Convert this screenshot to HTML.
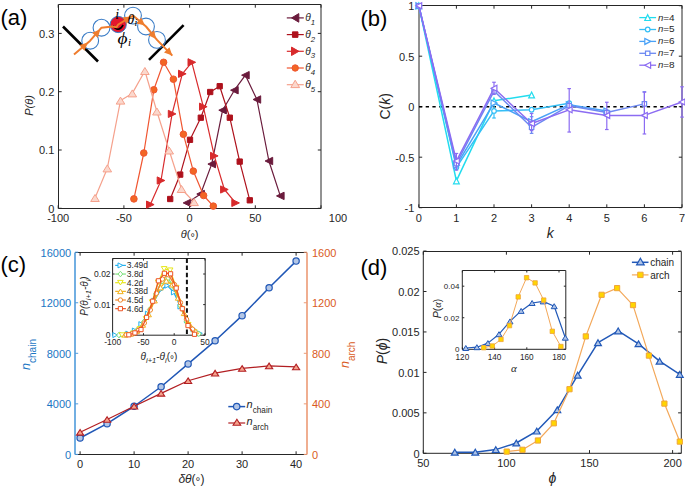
<!DOCTYPE html>
<html><head><meta charset="utf-8"><style>
html,body{margin:0;padding:0;background:#fff;width:685px;height:488px;overflow:hidden}
svg{display:block}
</style></head><body>
<svg width="685" height="488" viewBox="0 0 685 488">
<rect width="685" height="488" fill="#fff"/>
<line x1="58.50" y1="4.50" x2="321.00" y2="4.50" stroke="#262626" stroke-width="1" />
<line x1="58.50" y1="208.50" x2="321.00" y2="208.50" stroke="#262626" stroke-width="1" />
<line x1="58.50" y1="4.50" x2="58.50" y2="208.50" stroke="#262626" stroke-width="1" />
<line x1="321.00" y1="4.50" x2="321.00" y2="208.50" stroke="#262626" stroke-width="1" />
<line x1="58.20" y1="208.50" x2="58.20" y2="205.30" stroke="#262626" stroke-width="1" />
<line x1="58.20" y1="4.50" x2="58.20" y2="7.70" stroke="#262626" stroke-width="1" />
<text x="58.20" y="221.80" font-size="11" text-anchor="middle" fill="#262626" font-family='"Liberation Sans", sans-serif'  >-100</text>
<line x1="123.90" y1="208.50" x2="123.90" y2="205.30" stroke="#262626" stroke-width="1" />
<line x1="123.90" y1="4.50" x2="123.90" y2="7.70" stroke="#262626" stroke-width="1" />
<text x="123.90" y="221.80" font-size="11" text-anchor="middle" fill="#262626" font-family='"Liberation Sans", sans-serif'  >-50</text>
<line x1="189.60" y1="208.50" x2="189.60" y2="205.30" stroke="#262626" stroke-width="1" />
<line x1="189.60" y1="4.50" x2="189.60" y2="7.70" stroke="#262626" stroke-width="1" />
<text x="189.60" y="221.80" font-size="11" text-anchor="middle" fill="#262626" font-family='"Liberation Sans", sans-serif'  >0</text>
<line x1="255.30" y1="208.50" x2="255.30" y2="205.30" stroke="#262626" stroke-width="1" />
<line x1="255.30" y1="4.50" x2="255.30" y2="7.70" stroke="#262626" stroke-width="1" />
<text x="255.30" y="221.80" font-size="11" text-anchor="middle" fill="#262626" font-family='"Liberation Sans", sans-serif'  >50</text>
<line x1="321.00" y1="208.50" x2="321.00" y2="205.30" stroke="#262626" stroke-width="1" />
<line x1="321.00" y1="4.50" x2="321.00" y2="7.70" stroke="#262626" stroke-width="1" />
<text x="338.00" y="221.80" font-size="11" text-anchor="middle" fill="#262626" font-family='"Liberation Sans", sans-serif'  >100</text>
<line x1="58.50" y1="208.30" x2="61.70" y2="208.30" stroke="#262626" stroke-width="1" />
<line x1="321.00" y1="208.30" x2="317.80" y2="208.30" stroke="#262626" stroke-width="1" />
<text x="54.30" y="212.60" font-size="11" text-anchor="end" fill="#262626" font-family='"Liberation Sans", sans-serif'  >0</text>
<line x1="58.50" y1="150.00" x2="61.70" y2="150.00" stroke="#262626" stroke-width="1" />
<line x1="321.00" y1="150.00" x2="317.80" y2="150.00" stroke="#262626" stroke-width="1" />
<text x="54.30" y="154.30" font-size="11" text-anchor="end" fill="#262626" font-family='"Liberation Sans", sans-serif'  >0.1</text>
<line x1="58.50" y1="91.70" x2="61.70" y2="91.70" stroke="#262626" stroke-width="1" />
<line x1="321.00" y1="91.70" x2="317.80" y2="91.70" stroke="#262626" stroke-width="1" />
<text x="54.30" y="96.00" font-size="11" text-anchor="end" fill="#262626" font-family='"Liberation Sans", sans-serif'  >0.2</text>
<line x1="58.50" y1="33.40" x2="61.70" y2="33.40" stroke="#262626" stroke-width="1" />
<line x1="321.00" y1="33.40" x2="317.80" y2="33.40" stroke="#262626" stroke-width="1" />
<text x="54.30" y="37.70" font-size="11" text-anchor="end" fill="#262626" font-family='"Liberation Sans", sans-serif'  >0.3</text>
<polyline points="187.00,202.90 200.60,194.00 211.70,164.10 222.60,110.20 234.40,90.20 245.40,75.20 256.90,99.50 268.90,161.00 280.30,195.90" fill="none" stroke="#6a1b3c" stroke-width="1.2" stroke-linejoin="round" />
<polygon points="183.20,202.90 190.80,199.20 190.80,206.60" fill="#6a1b3c" stroke="#6a1b3c" stroke-width="1" stroke-linejoin="miter"/>
<polygon points="196.80,194.00 204.40,190.30 204.40,197.70" fill="#6a1b3c" stroke="#6a1b3c" stroke-width="1" stroke-linejoin="miter"/>
<polygon points="207.90,164.10 215.50,160.40 215.50,167.80" fill="#6a1b3c" stroke="#6a1b3c" stroke-width="1" stroke-linejoin="miter"/>
<polygon points="218.80,110.20 226.40,106.50 226.40,113.90" fill="#6a1b3c" stroke="#6a1b3c" stroke-width="1" stroke-linejoin="miter"/>
<polygon points="230.60,90.20 238.20,86.50 238.20,93.90" fill="#6a1b3c" stroke="#6a1b3c" stroke-width="1" stroke-linejoin="miter"/>
<polygon points="241.60,75.20 249.20,71.50 249.20,78.90" fill="#6a1b3c" stroke="#6a1b3c" stroke-width="1" stroke-linejoin="miter"/>
<polygon points="253.10,99.50 260.70,95.80 260.70,103.20" fill="#6a1b3c" stroke="#6a1b3c" stroke-width="1" stroke-linejoin="miter"/>
<polygon points="265.10,161.00 272.70,157.30 272.70,164.70" fill="#6a1b3c" stroke="#6a1b3c" stroke-width="1" stroke-linejoin="miter"/>
<polygon points="276.50,195.90 284.10,192.20 284.10,199.60" fill="#6a1b3c" stroke="#6a1b3c" stroke-width="1" stroke-linejoin="miter"/>
<polyline points="170.20,199.00 180.20,174.60 190.00,139.80 200.80,117.70 210.20,92.00 219.70,86.20 229.80,117.70 239.70,161.60 249.80,200.30" fill="none" stroke="#ae111c" stroke-width="1.2" stroke-linejoin="round" />
<polygon points="167.55,196.35 172.85,196.35 172.85,201.65 167.55,201.65" fill="#ae111c" stroke="#ae111c" stroke-width="1" stroke-linejoin="miter"/>
<polygon points="177.55,171.95 182.85,171.95 182.85,177.25 177.55,177.25" fill="#ae111c" stroke="#ae111c" stroke-width="1" stroke-linejoin="miter"/>
<polygon points="187.35,137.15 192.65,137.15 192.65,142.45 187.35,142.45" fill="#ae111c" stroke="#ae111c" stroke-width="1" stroke-linejoin="miter"/>
<polygon points="198.15,115.05 203.45,115.05 203.45,120.35 198.15,120.35" fill="#ae111c" stroke="#ae111c" stroke-width="1" stroke-linejoin="miter"/>
<polygon points="207.55,89.35 212.85,89.35 212.85,94.65 207.55,94.65" fill="#ae111c" stroke="#ae111c" stroke-width="1" stroke-linejoin="miter"/>
<polygon points="217.05,83.55 222.35,83.55 222.35,88.85 217.05,88.85" fill="#ae111c" stroke="#ae111c" stroke-width="1" stroke-linejoin="miter"/>
<polygon points="227.15,115.05 232.45,115.05 232.45,120.35 227.15,120.35" fill="#ae111c" stroke="#ae111c" stroke-width="1" stroke-linejoin="miter"/>
<polygon points="237.05,158.95 242.35,158.95 242.35,164.25 237.05,164.25" fill="#ae111c" stroke="#ae111c" stroke-width="1" stroke-linejoin="miter"/>
<polygon points="247.15,197.65 252.45,197.65 252.45,202.95 247.15,202.95" fill="#ae111c" stroke="#ae111c" stroke-width="1" stroke-linejoin="miter"/>
<polyline points="150.30,204.60 161.00,180.50 172.10,113.90 182.30,73.80 191.80,62.30 203.30,106.70 214.30,155.90 224.40,189.50 235.60,202.90" fill="none" stroke="#d82a2c" stroke-width="1.2" stroke-linejoin="round" />
<polygon points="154.10,204.60 146.50,201.00 146.50,208.20" fill="#d82a2c" stroke="#d82a2c" stroke-width="1" stroke-linejoin="miter"/>
<polygon points="164.80,180.50 157.20,176.90 157.20,184.10" fill="#d82a2c" stroke="#d82a2c" stroke-width="1" stroke-linejoin="miter"/>
<polygon points="175.90,113.90 168.30,110.30 168.30,117.50" fill="#d82a2c" stroke="#d82a2c" stroke-width="1" stroke-linejoin="miter"/>
<polygon points="186.10,73.80 178.50,70.20 178.50,77.40" fill="#d82a2c" stroke="#d82a2c" stroke-width="1" stroke-linejoin="miter"/>
<polygon points="195.60,62.30 188.00,58.70 188.00,65.90" fill="#d82a2c" stroke="#d82a2c" stroke-width="1" stroke-linejoin="miter"/>
<polygon points="207.10,106.70 199.50,103.10 199.50,110.30" fill="#d82a2c" stroke="#d82a2c" stroke-width="1" stroke-linejoin="miter"/>
<polygon points="218.10,155.90 210.50,152.30 210.50,159.50" fill="#d82a2c" stroke="#d82a2c" stroke-width="1" stroke-linejoin="miter"/>
<polygon points="228.20,189.50 220.60,185.90 220.60,193.10" fill="#d82a2c" stroke="#d82a2c" stroke-width="1" stroke-linejoin="miter"/>
<polygon points="239.40,202.90 231.80,199.30 231.80,206.50" fill="#d82a2c" stroke="#d82a2c" stroke-width="1" stroke-linejoin="miter"/>
<polyline points="133.90,198.90 143.80,153.00 153.80,89.80 163.60,62.30 173.40,79.20 183.40,134.30 193.30,171.10 203.60,195.50 213.30,206.10" fill="none" stroke="#f05530" stroke-width="1.2" stroke-linejoin="round" />
<circle cx="133.90" cy="198.90" r="3.30" fill="#f26624" stroke="#f05530" stroke-width="1"/>
<circle cx="143.80" cy="153.00" r="3.30" fill="#f26624" stroke="#f05530" stroke-width="1"/>
<circle cx="153.80" cy="89.80" r="3.30" fill="#f26624" stroke="#f05530" stroke-width="1"/>
<circle cx="163.60" cy="62.30" r="3.30" fill="#f26624" stroke="#f05530" stroke-width="1"/>
<circle cx="173.40" cy="79.20" r="3.30" fill="#f26624" stroke="#f05530" stroke-width="1"/>
<circle cx="183.40" cy="134.30" r="3.30" fill="#f26624" stroke="#f05530" stroke-width="1"/>
<circle cx="193.30" cy="171.10" r="3.30" fill="#f26624" stroke="#f05530" stroke-width="1"/>
<circle cx="203.60" cy="195.50" r="3.30" fill="#f26624" stroke="#f05530" stroke-width="1"/>
<circle cx="213.30" cy="206.10" r="3.30" fill="#f26624" stroke="#f05530" stroke-width="1"/>
<polyline points="95.00,198.00 107.30,168.40 120.50,100.60 132.30,93.40 144.90,71.00 156.90,111.50 169.20,150.50 181.50,189.00 194.10,202.10" fill="none" stroke="#f5a18c" stroke-width="1.2" stroke-linejoin="round" />
<polygon points="95.00,194.50 99.30,201.50 90.70,201.50" fill="#fbd8cd" stroke="#f5a18c" stroke-width="1" stroke-linejoin="miter"/>
<polygon points="107.30,164.90 111.60,171.90 103.00,171.90" fill="#fbd8cd" stroke="#f5a18c" stroke-width="1" stroke-linejoin="miter"/>
<polygon points="120.50,97.10 124.80,104.10 116.20,104.10" fill="#fbd8cd" stroke="#f5a18c" stroke-width="1" stroke-linejoin="miter"/>
<polygon points="132.30,89.90 136.60,96.90 128.00,96.90" fill="#fbd8cd" stroke="#f5a18c" stroke-width="1" stroke-linejoin="miter"/>
<polygon points="144.90,67.50 149.20,74.50 140.60,74.50" fill="#fbd8cd" stroke="#f5a18c" stroke-width="1" stroke-linejoin="miter"/>
<polygon points="156.90,108.00 161.20,115.00 152.60,115.00" fill="#fbd8cd" stroke="#f5a18c" stroke-width="1" stroke-linejoin="miter"/>
<polygon points="169.20,147.00 173.50,154.00 164.90,154.00" fill="#fbd8cd" stroke="#f5a18c" stroke-width="1" stroke-linejoin="miter"/>
<polygon points="181.50,185.50 185.80,192.50 177.20,192.50" fill="#fbd8cd" stroke="#f5a18c" stroke-width="1" stroke-linejoin="miter"/>
<polygon points="194.10,198.60 198.40,205.60 189.80,205.60" fill="#fbd8cd" stroke="#f5a18c" stroke-width="1" stroke-linejoin="miter"/>
<text x="189.6" y="237.6" font-size="11" text-anchor="middle" fill="#262626" font-family='"Liberation Sans", sans-serif'><tspan font-style="italic">θ</tspan>(<tspan dy="3">°</tspan><tspan dy="-3">)</tspan></text>
<text transform="translate(33.2,105.5) rotate(-90)" font-size="11" text-anchor="middle" fill="#262626" font-family='"Liberation Sans", sans-serif' font-style="italic">P(θ)</text>
<text x="0.50" y="24.80" font-size="22" text-anchor="start" fill="#000" font-family='"Liberation Sans", sans-serif'  >(a)</text>
<line x1="286.80" y1="17.90" x2="303.80" y2="17.90" stroke="#6a1b3c" stroke-width="1.2" />
<polygon points="291.60,17.90 298.80,13.60 298.80,22.20" fill="#6a1b3c" stroke="#6a1b3c" stroke-width="1" stroke-linejoin="miter"/>
<text x="305.3" y="21.20" font-size="10.2" fill="#262626" font-family='"Liberation Sans", sans-serif' font-style="italic">θ<tspan font-size="7.8" dy="3.6">1</tspan></text>
<line x1="286.80" y1="34.60" x2="303.80" y2="34.60" stroke="#ae111c" stroke-width="1.2" />
<polygon points="292.45,31.85 297.95,31.85 297.95,37.35 292.45,37.35" fill="#ae111c" stroke="#ae111c" stroke-width="1" stroke-linejoin="miter"/>
<text x="305.3" y="37.90" font-size="10.2" fill="#262626" font-family='"Liberation Sans", sans-serif' font-style="italic">θ<tspan font-size="7.8" dy="3.6">2</tspan></text>
<line x1="286.80" y1="51.30" x2="303.80" y2="51.30" stroke="#d82a2c" stroke-width="1.2" />
<polygon points="298.90,51.30 291.50,47.10 291.50,55.50" fill="#d82a2c" stroke="#d82a2c" stroke-width="1" stroke-linejoin="miter"/>
<text x="305.3" y="54.60" font-size="10.2" fill="#262626" font-family='"Liberation Sans", sans-serif' font-style="italic">θ<tspan font-size="7.8" dy="3.6">3</tspan></text>
<line x1="286.80" y1="68.00" x2="303.80" y2="68.00" stroke="#f05530" stroke-width="1.2" />
<circle cx="295.20" cy="68.00" r="3.20" fill="#f26624" stroke="#f05530" stroke-width="1"/>
<text x="305.3" y="71.30" font-size="10.2" fill="#262626" font-family='"Liberation Sans", sans-serif' font-style="italic">θ<tspan font-size="7.8" dy="3.6">4</tspan></text>
<line x1="286.80" y1="84.70" x2="303.80" y2="84.70" stroke="#f5a18c" stroke-width="1.2" />
<polygon points="295.20,80.20 299.60,87.60 290.80,87.60" fill="#fbd8cd" stroke="#f5a18c" stroke-width="1" stroke-linejoin="miter"/>
<text x="305.3" y="88.00" font-size="10.2" fill="#262626" font-family='"Liberation Sans", sans-serif' font-style="italic">θ<tspan font-size="7.8" dy="3.6">5</tspan></text>
<line x1="63.00" y1="26.50" x2="98.00" y2="61.50" stroke="#000" stroke-width="2.6" />
<line x1="149.00" y1="59.80" x2="183.60" y2="25.20" stroke="#000" stroke-width="2.6" />
<circle cx="90.2" cy="40.7" r="8.4" fill="none" stroke="#3a7cc6" stroke-width="1.1"/>
<circle cx="101.5" cy="27.7" r="8.4" fill="none" stroke="#3a7cc6" stroke-width="1.1"/>
<circle cx="118.2" cy="24.5" r="8.1" fill="#e3172d" stroke="#3a7cc6" stroke-width="1"/>
<circle cx="133" cy="15.6" r="8.4" fill="none" stroke="#3a7cc6" stroke-width="1.1"/>
<circle cx="146" cy="26.5" r="8.4" fill="none" stroke="#3a7cc6" stroke-width="1.1"/>
<circle cx="157" cy="39.9" r="8.4" fill="none" stroke="#3a7cc6" stroke-width="1.1"/>
<path d="M113.0,25.8 Q118.2,33.2 123.2,25.0" fill="none" stroke="#000" stroke-width="1.5"/>
<polyline points="74,54.6 90.2,40.7 101.5,27.7 112.5,26.6 116.5,27.2 118.2,24.5 133,15.6 146,26.5 157,39.9 172.3,55.6" fill="none" stroke="#ef7d2e" stroke-width="2" stroke-linejoin="round"/>
<polygon points="88.00,42.60 84.40,50.69 79.45,44.92" fill="#ef7d2e"/>
<polygon points="100.30,29.20 97.88,37.72 92.17,32.70" fill="#ef7d2e"/>
<polygon points="131.50,16.50 126.60,23.88 122.69,17.37" fill="#ef7d2e"/>
<polygon points="145.00,25.60 136.42,23.40 141.29,17.56" fill="#ef7d2e"/>
<polygon points="156.20,38.90 148.18,35.14 154.05,30.31" fill="#ef7d2e"/>
<polygon points="172.30,55.60 164.00,52.52 169.44,47.22" fill="#ef7d2e"/>
<text x="117.3" y="18.9" font-size="14" text-anchor="middle" fill="#000" font-family='"Liberation Serif", serif' font-style="italic">i</text>
<text x="127.6" y="24.3" font-size="14" fill="#000" font-family='"Liberation Serif", serif' font-style="italic">θ<tspan font-size="10" dy="1.2">i</tspan></text>
<text x="117.6" y="44.2" font-size="17.5" fill="#000" font-family='"Liberation Serif", serif' font-style="italic" textLength="10" lengthAdjust="spacingAndGlyphs">ϕ</text>
<text x="128" y="46.2" font-size="11" fill="#000" font-family='"Liberation Serif", serif' font-style="italic">i</text>
<line x1="419.00" y1="5.50" x2="682.00" y2="5.50" stroke="#262626" stroke-width="1" />
<line x1="419.00" y1="207.50" x2="682.00" y2="207.50" stroke="#262626" stroke-width="1" />
<line x1="419.00" y1="5.50" x2="419.00" y2="207.50" stroke="#262626" stroke-width="1" />
<line x1="682.00" y1="5.50" x2="682.00" y2="207.50" stroke="#262626" stroke-width="1" />
<line x1="418.80" y1="207.50" x2="418.80" y2="204.30" stroke="#262626" stroke-width="1" />
<line x1="418.80" y1="5.50" x2="418.80" y2="8.70" stroke="#262626" stroke-width="1" />
<text x="418.80" y="221.70" font-size="11" text-anchor="middle" fill="#262626" font-family='"Liberation Sans", sans-serif'  >0</text>
<line x1="456.40" y1="207.50" x2="456.40" y2="204.30" stroke="#262626" stroke-width="1" />
<line x1="456.40" y1="5.50" x2="456.40" y2="8.70" stroke="#262626" stroke-width="1" />
<text x="456.40" y="221.70" font-size="11" text-anchor="middle" fill="#262626" font-family='"Liberation Sans", sans-serif'  >1</text>
<line x1="494.00" y1="207.50" x2="494.00" y2="204.30" stroke="#262626" stroke-width="1" />
<line x1="494.00" y1="5.50" x2="494.00" y2="8.70" stroke="#262626" stroke-width="1" />
<text x="494.00" y="221.70" font-size="11" text-anchor="middle" fill="#262626" font-family='"Liberation Sans", sans-serif'  >2</text>
<line x1="531.60" y1="207.50" x2="531.60" y2="204.30" stroke="#262626" stroke-width="1" />
<line x1="531.60" y1="5.50" x2="531.60" y2="8.70" stroke="#262626" stroke-width="1" />
<text x="531.60" y="221.70" font-size="11" text-anchor="middle" fill="#262626" font-family='"Liberation Sans", sans-serif'  >3</text>
<line x1="569.20" y1="207.50" x2="569.20" y2="204.30" stroke="#262626" stroke-width="1" />
<line x1="569.20" y1="5.50" x2="569.20" y2="8.70" stroke="#262626" stroke-width="1" />
<text x="569.20" y="221.70" font-size="11" text-anchor="middle" fill="#262626" font-family='"Liberation Sans", sans-serif'  >4</text>
<line x1="606.80" y1="207.50" x2="606.80" y2="204.30" stroke="#262626" stroke-width="1" />
<line x1="606.80" y1="5.50" x2="606.80" y2="8.70" stroke="#262626" stroke-width="1" />
<text x="606.80" y="221.70" font-size="11" text-anchor="middle" fill="#262626" font-family='"Liberation Sans", sans-serif'  >5</text>
<line x1="644.40" y1="207.50" x2="644.40" y2="204.30" stroke="#262626" stroke-width="1" />
<line x1="644.40" y1="5.50" x2="644.40" y2="8.70" stroke="#262626" stroke-width="1" />
<text x="644.40" y="221.70" font-size="11" text-anchor="middle" fill="#262626" font-family='"Liberation Sans", sans-serif'  >6</text>
<line x1="682.00" y1="207.50" x2="682.00" y2="204.30" stroke="#262626" stroke-width="1" />
<line x1="682.00" y1="5.50" x2="682.00" y2="8.70" stroke="#262626" stroke-width="1" />
<text x="682.00" y="221.70" font-size="11" text-anchor="middle" fill="#262626" font-family='"Liberation Sans", sans-serif'  >7</text>
<line x1="419.00" y1="207.70" x2="422.20" y2="207.70" stroke="#262626" stroke-width="1" />
<line x1="682.00" y1="207.70" x2="678.80" y2="207.70" stroke="#262626" stroke-width="1" />
<text x="414.30" y="212.00" font-size="11" text-anchor="end" fill="#262626" font-family='"Liberation Sans", sans-serif'  >-1</text>
<line x1="419.00" y1="157.20" x2="422.20" y2="157.20" stroke="#262626" stroke-width="1" />
<line x1="682.00" y1="157.20" x2="678.80" y2="157.20" stroke="#262626" stroke-width="1" />
<text x="414.30" y="161.50" font-size="11" text-anchor="end" fill="#262626" font-family='"Liberation Sans", sans-serif'  >-0.5</text>
<line x1="419.00" y1="106.70" x2="422.20" y2="106.70" stroke="#262626" stroke-width="1" />
<line x1="682.00" y1="106.70" x2="678.80" y2="106.70" stroke="#262626" stroke-width="1" />
<text x="414.30" y="111.00" font-size="11" text-anchor="end" fill="#262626" font-family='"Liberation Sans", sans-serif'  >0</text>
<line x1="419.00" y1="56.20" x2="422.20" y2="56.20" stroke="#262626" stroke-width="1" />
<line x1="682.00" y1="56.20" x2="678.80" y2="56.20" stroke="#262626" stroke-width="1" />
<text x="414.30" y="60.50" font-size="11" text-anchor="end" fill="#262626" font-family='"Liberation Sans", sans-serif'  >0.5</text>
<line x1="419.00" y1="5.70" x2="422.20" y2="5.70" stroke="#262626" stroke-width="1" />
<line x1="682.00" y1="5.70" x2="678.80" y2="5.70" stroke="#262626" stroke-width="1" />
<text x="414.30" y="10.00" font-size="11" text-anchor="end" fill="#262626" font-family='"Liberation Sans", sans-serif'  >1</text>
<line x1="419.00" y1="106.70" x2="682.00" y2="106.70" stroke="#000" stroke-width="1.5" stroke-dasharray="3.3,3.4"/>
<polyline points="418.80,5.70 456.40,180.94 494.00,100.84 531.60,94.98" fill="none" stroke="#22dcee" stroke-width="1.5" stroke-linejoin="round" />
<polygon points="418.80,2.80 421.70,8.60 415.90,8.60" fill="#fff" stroke="#22dcee" stroke-width="1.2" stroke-linejoin="miter"/>
<polygon points="456.40,178.03 459.30,183.84 453.50,183.84" fill="#fff" stroke="#22dcee" stroke-width="1.2" stroke-linejoin="miter"/>
<polygon points="494.00,97.94 496.90,103.74 491.10,103.74" fill="#fff" stroke="#22dcee" stroke-width="1.2" stroke-linejoin="miter"/>
<polygon points="531.60,92.08 534.50,97.88 528.70,97.88" fill="#fff" stroke="#22dcee" stroke-width="1.2" stroke-linejoin="miter"/>
<polyline points="418.80,5.70 456.40,167.30 494.00,110.94 531.60,109.73 569.20,103.17" fill="none" stroke="#34bff6" stroke-width="1.5" stroke-linejoin="round" />
<line x1="494.00" y1="102.86" x2="494.00" y2="118.01" stroke="#34bff6" stroke-width="1.2" />
<line x1="492.20" y1="102.86" x2="495.80" y2="102.86" stroke="#34bff6" stroke-width="1.2" />
<line x1="492.20" y1="118.01" x2="495.80" y2="118.01" stroke="#34bff6" stroke-width="1.2" />
<circle cx="418.80" cy="5.70" r="2.30" fill="#fff" stroke="#34bff6" stroke-width="1.2"/>
<circle cx="456.40" cy="167.30" r="2.30" fill="#fff" stroke="#34bff6" stroke-width="1.2"/>
<circle cx="494.00" cy="110.94" r="2.30" fill="#fff" stroke="#34bff6" stroke-width="1.2"/>
<circle cx="531.60" cy="109.73" r="2.30" fill="#fff" stroke="#34bff6" stroke-width="1.2"/>
<circle cx="569.20" cy="103.17" r="2.30" fill="#fff" stroke="#34bff6" stroke-width="1.2"/>
<polyline points="418.80,5.70 456.40,165.28 494.00,102.96 531.60,121.75 569.20,104.68 606.80,110.94" fill="none" stroke="#4aa2f7" stroke-width="1.5" stroke-linejoin="round" />
<line x1="531.60" y1="116.70" x2="531.60" y2="126.80" stroke="#4aa2f7" stroke-width="1.2" />
<line x1="529.80" y1="116.70" x2="533.40" y2="116.70" stroke="#4aa2f7" stroke-width="1.2" />
<line x1="529.80" y1="126.80" x2="533.40" y2="126.80" stroke="#4aa2f7" stroke-width="1.2" />
<polygon points="421.70,5.70 415.90,2.70 415.90,8.70" fill="#fff" stroke="#4aa2f7" stroke-width="1.2" stroke-linejoin="miter"/>
<polygon points="459.30,165.28 453.50,162.28 453.50,168.28" fill="#fff" stroke="#4aa2f7" stroke-width="1.2" stroke-linejoin="miter"/>
<polygon points="496.90,102.96 491.10,99.96 491.10,105.96" fill="#fff" stroke="#4aa2f7" stroke-width="1.2" stroke-linejoin="miter"/>
<polygon points="534.50,121.75 528.70,118.75 528.70,124.75" fill="#fff" stroke="#4aa2f7" stroke-width="1.2" stroke-linejoin="miter"/>
<polygon points="572.10,104.68 566.30,101.68 566.30,107.68" fill="#fff" stroke="#4aa2f7" stroke-width="1.2" stroke-linejoin="miter"/>
<polygon points="609.70,110.94 603.90,107.94 603.90,113.94" fill="#fff" stroke="#4aa2f7" stroke-width="1.2" stroke-linejoin="miter"/>
<polyline points="418.80,5.70 456.40,163.76 494.00,91.05 531.60,127.30 569.20,105.69 606.80,112.56 644.40,103.87" fill="none" stroke="#6c88f2" stroke-width="1.5" stroke-linejoin="round" />
<line x1="456.40" y1="159.72" x2="456.40" y2="167.81" stroke="#6c88f2" stroke-width="1.2" />
<line x1="454.60" y1="159.72" x2="458.20" y2="159.72" stroke="#6c88f2" stroke-width="1.2" />
<line x1="454.60" y1="167.81" x2="458.20" y2="167.81" stroke="#6c88f2" stroke-width="1.2" />
<line x1="531.60" y1="121.24" x2="531.60" y2="133.36" stroke="#6c88f2" stroke-width="1.2" />
<line x1="529.80" y1="121.24" x2="533.40" y2="121.24" stroke="#6c88f2" stroke-width="1.2" />
<line x1="529.80" y1="133.36" x2="533.40" y2="133.36" stroke="#6c88f2" stroke-width="1.2" />
<line x1="644.40" y1="91.75" x2="644.40" y2="115.99" stroke="#6c88f2" stroke-width="1.2" />
<line x1="642.60" y1="91.75" x2="646.20" y2="91.75" stroke="#6c88f2" stroke-width="1.2" />
<line x1="642.60" y1="115.99" x2="646.20" y2="115.99" stroke="#6c88f2" stroke-width="1.2" />
<polygon points="416.60,3.50 421.00,3.50 421.00,7.90 416.60,7.90" fill="#fff" stroke="#6c88f2" stroke-width="1.2" stroke-linejoin="miter"/>
<polygon points="454.20,161.56 458.60,161.56 458.60,165.96 454.20,165.96" fill="#fff" stroke="#6c88f2" stroke-width="1.2" stroke-linejoin="miter"/>
<polygon points="491.80,88.84 496.20,88.84 496.20,93.25 491.80,93.25" fill="#fff" stroke="#6c88f2" stroke-width="1.2" stroke-linejoin="miter"/>
<polygon points="529.40,125.10 533.80,125.10 533.80,129.50 529.40,129.50" fill="#fff" stroke="#6c88f2" stroke-width="1.2" stroke-linejoin="miter"/>
<polygon points="567.00,103.49 571.40,103.49 571.40,107.89 567.00,107.89" fill="#fff" stroke="#6c88f2" stroke-width="1.2" stroke-linejoin="miter"/>
<polygon points="604.60,110.36 609.00,110.36 609.00,114.76 604.60,114.76" fill="#fff" stroke="#6c88f2" stroke-width="1.2" stroke-linejoin="miter"/>
<polygon points="642.20,101.67 646.60,101.67 646.60,106.07 642.20,106.07" fill="#fff" stroke="#6c88f2" stroke-width="1.2" stroke-linejoin="miter"/>
<polyline points="418.80,5.70 456.40,161.04 494.00,88.32 531.60,123.57 569.20,109.83 606.80,115.39 644.40,115.39 682.00,101.95" fill="none" stroke="#8c6cf2" stroke-width="1.5" stroke-linejoin="round" />
<line x1="456.40" y1="153.46" x2="456.40" y2="170.13" stroke="#8c6cf2" stroke-width="1.2" />
<line x1="454.60" y1="153.46" x2="458.20" y2="153.46" stroke="#8c6cf2" stroke-width="1.2" />
<line x1="454.60" y1="170.13" x2="458.20" y2="170.13" stroke="#8c6cf2" stroke-width="1.2" />
<line x1="494.00" y1="82.26" x2="494.00" y2="94.38" stroke="#8c6cf2" stroke-width="1.2" />
<line x1="492.20" y1="82.26" x2="495.80" y2="82.26" stroke="#8c6cf2" stroke-width="1.2" />
<line x1="492.20" y1="94.38" x2="495.80" y2="94.38" stroke="#8c6cf2" stroke-width="1.2" />
<line x1="531.60" y1="113.47" x2="531.60" y2="130.64" stroke="#8c6cf2" stroke-width="1.2" />
<line x1="529.80" y1="113.47" x2="533.40" y2="113.47" stroke="#8c6cf2" stroke-width="1.2" />
<line x1="529.80" y1="130.64" x2="533.40" y2="130.64" stroke="#8c6cf2" stroke-width="1.2" />
<line x1="569.20" y1="88.62" x2="569.20" y2="132.05" stroke="#8c6cf2" stroke-width="1.2" />
<line x1="567.40" y1="88.62" x2="571.00" y2="88.62" stroke="#8c6cf2" stroke-width="1.2" />
<line x1="567.40" y1="132.05" x2="571.00" y2="132.05" stroke="#8c6cf2" stroke-width="1.2" />
<line x1="606.80" y1="102.26" x2="606.80" y2="129.53" stroke="#8c6cf2" stroke-width="1.2" />
<line x1="605.00" y1="102.26" x2="608.60" y2="102.26" stroke="#8c6cf2" stroke-width="1.2" />
<line x1="605.00" y1="129.53" x2="608.60" y2="129.53" stroke="#8c6cf2" stroke-width="1.2" />
<line x1="644.40" y1="92.16" x2="644.40" y2="133.97" stroke="#8c6cf2" stroke-width="1.2" />
<line x1="642.60" y1="92.16" x2="646.20" y2="92.16" stroke="#8c6cf2" stroke-width="1.2" />
<line x1="642.60" y1="133.97" x2="646.20" y2="133.97" stroke="#8c6cf2" stroke-width="1.2" />
<line x1="682.00" y1="86.80" x2="682.00" y2="117.10" stroke="#8c6cf2" stroke-width="1.2" />
<line x1="680.20" y1="86.80" x2="683.80" y2="86.80" stroke="#8c6cf2" stroke-width="1.2" />
<line x1="680.20" y1="117.10" x2="683.80" y2="117.10" stroke="#8c6cf2" stroke-width="1.2" />
<polygon points="415.90,5.70 421.70,2.70 421.70,8.70" fill="#fff" stroke="#8c6cf2" stroke-width="1.2" stroke-linejoin="miter"/>
<polygon points="453.50,161.04 459.30,158.04 459.30,164.04" fill="#fff" stroke="#8c6cf2" stroke-width="1.2" stroke-linejoin="miter"/>
<polygon points="491.10,88.32 496.90,85.32 496.90,91.32" fill="#fff" stroke="#8c6cf2" stroke-width="1.2" stroke-linejoin="miter"/>
<polygon points="528.70,123.57 534.50,120.57 534.50,126.57" fill="#fff" stroke="#8c6cf2" stroke-width="1.2" stroke-linejoin="miter"/>
<polygon points="566.30,109.83 572.10,106.83 572.10,112.83" fill="#fff" stroke="#8c6cf2" stroke-width="1.2" stroke-linejoin="miter"/>
<polygon points="603.90,115.39 609.70,112.39 609.70,118.39" fill="#fff" stroke="#8c6cf2" stroke-width="1.2" stroke-linejoin="miter"/>
<polygon points="641.50,115.39 647.30,112.39 647.30,118.39" fill="#fff" stroke="#8c6cf2" stroke-width="1.2" stroke-linejoin="miter"/>
<polygon points="679.10,101.95 684.90,98.95 684.90,104.95" fill="#fff" stroke="#8c6cf2" stroke-width="1.2" stroke-linejoin="miter"/>
<text x="550.3" y="237.6" font-size="14" text-anchor="middle" fill="#262626" font-family='"Liberation Sans", sans-serif' font-style="italic">k</text>
<text transform="translate(389.6,106.4) rotate(-90)" font-size="14" text-anchor="middle" fill="#262626" font-family='"Liberation Sans", sans-serif'>C(<tspan font-style="italic">k</tspan>)</text>
<text x="360.50" y="25.50" font-size="22" text-anchor="start" fill="#000" font-family='"Liberation Sans", sans-serif'  >(b)</text>
<line x1="639.30" y1="17.60" x2="656.10" y2="17.60" stroke="#22dcee" stroke-width="1.3" />
<polygon points="647.70,14.70 650.60,20.50 644.80,20.50" fill="#fff" stroke="#22dcee" stroke-width="1.2" stroke-linejoin="miter"/>
<text x="657.9" y="20.50" font-size="8" fill="#262626" font-family='"Liberation Sans", sans-serif' ><tspan font-style="italic" font-size="9.6">n</tspan><tspan font-size="9" textLength="11.4" lengthAdjust="spacingAndGlyphs">=4</tspan></text>
<line x1="639.30" y1="29.50" x2="656.10" y2="29.50" stroke="#34bff6" stroke-width="1.3" />
<circle cx="647.70" cy="29.50" r="2.30" fill="#fff" stroke="#34bff6" stroke-width="1.2"/>
<text x="657.9" y="32.40" font-size="8" fill="#262626" font-family='"Liberation Sans", sans-serif' ><tspan font-style="italic" font-size="9.6">n</tspan><tspan font-size="9" textLength="11.4" lengthAdjust="spacingAndGlyphs">=5</tspan></text>
<line x1="639.30" y1="41.40" x2="656.10" y2="41.40" stroke="#4aa2f7" stroke-width="1.3" />
<polygon points="650.60,41.40 644.80,38.40 644.80,44.40" fill="#fff" stroke="#4aa2f7" stroke-width="1.2" stroke-linejoin="miter"/>
<text x="657.9" y="44.30" font-size="8" fill="#262626" font-family='"Liberation Sans", sans-serif' ><tspan font-style="italic" font-size="9.6">n</tspan><tspan font-size="9" textLength="11.4" lengthAdjust="spacingAndGlyphs">=6</tspan></text>
<line x1="639.30" y1="53.30" x2="656.10" y2="53.30" stroke="#6c88f2" stroke-width="1.3" />
<polygon points="645.50,51.10 649.90,51.10 649.90,55.50 645.50,55.50" fill="#fff" stroke="#6c88f2" stroke-width="1.2" stroke-linejoin="miter"/>
<text x="657.9" y="56.20" font-size="8" fill="#262626" font-family='"Liberation Sans", sans-serif' ><tspan font-style="italic" font-size="9.6">n</tspan><tspan font-size="9" textLength="11.4" lengthAdjust="spacingAndGlyphs">=7</tspan></text>
<line x1="639.30" y1="65.20" x2="656.10" y2="65.20" stroke="#8c6cf2" stroke-width="1.3" />
<polygon points="644.80,65.20 650.60,62.20 650.60,68.20" fill="#fff" stroke="#8c6cf2" stroke-width="1.2" stroke-linejoin="miter"/>
<text x="657.9" y="68.10" font-size="8" fill="#262626" font-family='"Liberation Sans", sans-serif' ><tspan font-style="italic" font-size="9.6">n</tspan><tspan font-size="9" textLength="11.4" lengthAdjust="spacingAndGlyphs">=8</tspan></text>
<line x1="75.00" y1="252.50" x2="307.00" y2="252.50" stroke="#262626" stroke-width="1" />
<line x1="75.00" y1="454.50" x2="307.00" y2="454.50" stroke="#262626" stroke-width="1" />
<line x1="75.00" y1="252.50" x2="75.00" y2="454.50" stroke="#4f9bdb" stroke-width="1.6" />
<line x1="307.00" y1="252.50" x2="307.00" y2="454.50" stroke="#ec9a75" stroke-width="1.6" />
<line x1="80.10" y1="454.50" x2="80.10" y2="451.30" stroke="#262626" stroke-width="1" />
<line x1="80.10" y1="252.50" x2="80.10" y2="255.70" stroke="#262626" stroke-width="1" />
<text x="80.10" y="468.20" font-size="11" text-anchor="middle" fill="#262626" font-family='"Liberation Sans", sans-serif'  >0</text>
<line x1="134.10" y1="454.50" x2="134.10" y2="451.30" stroke="#262626" stroke-width="1" />
<line x1="134.10" y1="252.50" x2="134.10" y2="255.70" stroke="#262626" stroke-width="1" />
<text x="134.10" y="468.20" font-size="11" text-anchor="middle" fill="#262626" font-family='"Liberation Sans", sans-serif'  >10</text>
<line x1="188.10" y1="454.50" x2="188.10" y2="451.30" stroke="#262626" stroke-width="1" />
<line x1="188.10" y1="252.50" x2="188.10" y2="255.70" stroke="#262626" stroke-width="1" />
<text x="188.10" y="468.20" font-size="11" text-anchor="middle" fill="#262626" font-family='"Liberation Sans", sans-serif'  >20</text>
<line x1="242.10" y1="454.50" x2="242.10" y2="451.30" stroke="#262626" stroke-width="1" />
<line x1="242.10" y1="252.50" x2="242.10" y2="255.70" stroke="#262626" stroke-width="1" />
<text x="242.10" y="468.20" font-size="11" text-anchor="middle" fill="#262626" font-family='"Liberation Sans", sans-serif'  >30</text>
<line x1="296.10" y1="454.50" x2="296.10" y2="451.30" stroke="#262626" stroke-width="1" />
<line x1="296.10" y1="252.50" x2="296.10" y2="255.70" stroke="#262626" stroke-width="1" />
<text x="296.10" y="468.20" font-size="11" text-anchor="middle" fill="#262626" font-family='"Liberation Sans", sans-serif'  >40</text>
<line x1="75.00" y1="454.40" x2="78.20" y2="454.40" stroke="#4f9bdb" stroke-width="1" />
<text x="71.20" y="458.70" font-size="11" text-anchor="end" fill="#1a76c4" font-family='"Liberation Sans", sans-serif'  >0</text>
<line x1="75.00" y1="403.85" x2="78.20" y2="403.85" stroke="#4f9bdb" stroke-width="1" />
<text x="71.20" y="408.15" font-size="11" text-anchor="end" fill="#1a76c4" font-family='"Liberation Sans", sans-serif'  >4000</text>
<line x1="75.00" y1="353.30" x2="78.20" y2="353.30" stroke="#4f9bdb" stroke-width="1" />
<text x="71.20" y="357.60" font-size="11" text-anchor="end" fill="#1a76c4" font-family='"Liberation Sans", sans-serif'  >8000</text>
<line x1="75.00" y1="302.75" x2="78.20" y2="302.75" stroke="#4f9bdb" stroke-width="1" />
<text x="71.20" y="307.05" font-size="11" text-anchor="end" fill="#1a76c4" font-family='"Liberation Sans", sans-serif'  >12000</text>
<line x1="75.00" y1="252.20" x2="78.20" y2="252.20" stroke="#4f9bdb" stroke-width="1" />
<text x="71.20" y="256.50" font-size="11" text-anchor="end" fill="#1a76c4" font-family='"Liberation Sans", sans-serif'  >16000</text>
<line x1="307.00" y1="454.40" x2="303.80" y2="454.40" stroke="#ec9a75" stroke-width="1" />
<text x="311.90" y="458.70" font-size="11" text-anchor="start" fill="#d95a22" font-family='"Liberation Sans", sans-serif'  >0</text>
<line x1="307.00" y1="403.85" x2="303.80" y2="403.85" stroke="#ec9a75" stroke-width="1" />
<text x="311.90" y="408.15" font-size="11" text-anchor="start" fill="#d95a22" font-family='"Liberation Sans", sans-serif'  >400</text>
<line x1="307.00" y1="353.30" x2="303.80" y2="353.30" stroke="#ec9a75" stroke-width="1" />
<text x="311.90" y="357.60" font-size="11" text-anchor="start" fill="#d95a22" font-family='"Liberation Sans", sans-serif'  >800</text>
<line x1="307.00" y1="302.75" x2="303.80" y2="302.75" stroke="#ec9a75" stroke-width="1" />
<text x="311.90" y="307.05" font-size="11" text-anchor="start" fill="#d95a22" font-family='"Liberation Sans", sans-serif'  >1200</text>
<line x1="307.00" y1="252.20" x2="303.80" y2="252.20" stroke="#ec9a75" stroke-width="1" />
<text x="311.90" y="256.50" font-size="11" text-anchor="start" fill="#d95a22" font-family='"Liberation Sans", sans-serif'  >1600</text>
<polyline points="80.10,438.02 107.10,423.63 134.10,406.25 161.10,386.76 188.10,363.89 215.10,340.81 242.10,315.64 269.10,287.76 296.10,261.10" fill="none" stroke="#2057b6" stroke-width="1.5" stroke-linejoin="round" />
<circle cx="80.10" cy="438.02" r="3.15" fill="#b3c6e6" stroke="#2057b6" stroke-width="1.2"/>
<circle cx="107.10" cy="423.63" r="3.15" fill="#b3c6e6" stroke="#2057b6" stroke-width="1.2"/>
<circle cx="134.10" cy="406.25" r="3.15" fill="#b3c6e6" stroke="#2057b6" stroke-width="1.2"/>
<circle cx="161.10" cy="386.76" r="3.15" fill="#b3c6e6" stroke="#2057b6" stroke-width="1.2"/>
<circle cx="188.10" cy="363.89" r="3.15" fill="#b3c6e6" stroke="#2057b6" stroke-width="1.2"/>
<circle cx="215.10" cy="340.81" r="3.15" fill="#b3c6e6" stroke="#2057b6" stroke-width="1.2"/>
<circle cx="242.10" cy="315.64" r="3.15" fill="#b3c6e6" stroke="#2057b6" stroke-width="1.2"/>
<circle cx="269.10" cy="287.76" r="3.15" fill="#b3c6e6" stroke="#2057b6" stroke-width="1.2"/>
<circle cx="296.10" cy="261.10" r="3.15" fill="#b3c6e6" stroke="#2057b6" stroke-width="1.2"/>
<polyline points="80.10,432.28 107.10,419.52 134.10,406.25 161.10,393.36 188.10,380.72 215.10,373.14 242.10,368.46 269.10,365.94 296.10,366.95" fill="none" stroke="#b21e22" stroke-width="1.2" stroke-linejoin="round" />
<polygon points="80.10,429.48 83.70,435.08 76.50,435.08" fill="#f5a28c" stroke="#b21e22" stroke-width="1.1" stroke-linejoin="miter"/>
<polygon points="107.10,416.72 110.70,422.32 103.50,422.32" fill="#f5a28c" stroke="#b21e22" stroke-width="1.1" stroke-linejoin="miter"/>
<polygon points="134.10,403.45 137.70,409.05 130.50,409.05" fill="#f5a28c" stroke="#b21e22" stroke-width="1.1" stroke-linejoin="miter"/>
<polygon points="161.10,390.56 164.70,396.16 157.50,396.16" fill="#f5a28c" stroke="#b21e22" stroke-width="1.1" stroke-linejoin="miter"/>
<polygon points="188.10,377.92 191.70,383.52 184.50,383.52" fill="#f5a28c" stroke="#b21e22" stroke-width="1.1" stroke-linejoin="miter"/>
<polygon points="215.10,370.34 218.70,375.94 211.50,375.94" fill="#f5a28c" stroke="#b21e22" stroke-width="1.1" stroke-linejoin="miter"/>
<polygon points="242.10,365.66 245.70,371.26 238.50,371.26" fill="#f5a28c" stroke="#b21e22" stroke-width="1.1" stroke-linejoin="miter"/>
<polygon points="269.10,363.14 272.70,368.74 265.50,368.74" fill="#f5a28c" stroke="#b21e22" stroke-width="1.1" stroke-linejoin="miter"/>
<polygon points="296.10,364.15 299.70,369.75 292.50,369.75" fill="#f5a28c" stroke="#b21e22" stroke-width="1.1" stroke-linejoin="miter"/>
<line x1="228.30" y1="406.60" x2="245.20" y2="406.60" stroke="#2057b6" stroke-width="1.5" />
<circle cx="236.70" cy="406.60" r="3.20" fill="#b3c6e6" stroke="#2057b6" stroke-width="1.2"/>
<line x1="228.30" y1="423.00" x2="245.20" y2="423.00" stroke="#b21e22" stroke-width="1.2" />
<polygon points="236.90,419.20 240.70,425.20 233.10,425.20" fill="#f5a28c" stroke="#b21e22" stroke-width="1.1" stroke-linejoin="miter"/>
<text x="246.6" y="408" font-size="11" fill="#262626" font-family='"Liberation Sans", sans-serif'><tspan font-style="italic">n</tspan><tspan font-size="8.2" dy="5.3">chain</tspan></text>
<text x="246.6" y="424.6" font-size="11" fill="#262626" font-family='"Liberation Sans", sans-serif'><tspan font-style="italic">n</tspan><tspan font-size="8.2" dy="5.3">arch</tspan></text>
<text x="191.4" y="483.2" font-size="12" text-anchor="middle" fill="#262626" font-family='"Liberation Sans", sans-serif'><tspan font-style="italic">δθ</tspan>(<tspan dy="3">°</tspan><tspan dy="-3">)</tspan></text>
<text transform="translate(30,354.5) rotate(-90)" font-size="12.5" text-anchor="middle" fill="#1a76c4" font-family='"Liberation Sans", sans-serif'><tspan font-style="italic">n</tspan><tspan font-size="10" dy="5.8">chain</tspan></text>
<text transform="translate(349.2,354.8) rotate(-90)" font-size="12.5" text-anchor="middle" fill="#d95a22" font-family='"Liberation Sans", sans-serif'><tspan font-style="italic">n</tspan><tspan font-size="10" dy="5.8">arch</tspan></text>
<text x="0.50" y="271.80" font-size="22" text-anchor="start" fill="#000" font-family='"Liberation Sans", sans-serif'  >(c)</text>
<rect x="112.6" y="258.5" width="92.6" height="76.69999999999999" fill="#fff"/>
<line x1="112.60" y1="258.50" x2="205.20" y2="258.50" stroke="#262626" stroke-width="1" />
<line x1="112.60" y1="335.20" x2="205.20" y2="335.20" stroke="#262626" stroke-width="1" />
<line x1="112.60" y1="258.50" x2="112.60" y2="335.20" stroke="#262626" stroke-width="1" />
<line x1="205.20" y1="258.50" x2="205.20" y2="335.20" stroke="#262626" stroke-width="1" />
<line x1="112.75" y1="335.20" x2="112.75" y2="333.20" stroke="#262626" stroke-width="1" />
<line x1="112.75" y1="258.50" x2="112.75" y2="260.50" stroke="#262626" stroke-width="1" />
<text x="112.75" y="345.30" font-size="8.5" text-anchor="middle" fill="#262626" font-family='"Liberation Sans", sans-serif'  >-100</text>
<line x1="143.47" y1="335.20" x2="143.47" y2="333.20" stroke="#262626" stroke-width="1" />
<line x1="143.47" y1="258.50" x2="143.47" y2="260.50" stroke="#262626" stroke-width="1" />
<text x="143.47" y="345.30" font-size="8.5" text-anchor="middle" fill="#262626" font-family='"Liberation Sans", sans-serif'  >-50</text>
<line x1="174.20" y1="335.20" x2="174.20" y2="333.20" stroke="#262626" stroke-width="1" />
<line x1="174.20" y1="258.50" x2="174.20" y2="260.50" stroke="#262626" stroke-width="1" />
<text x="174.20" y="345.30" font-size="8.5" text-anchor="middle" fill="#262626" font-family='"Liberation Sans", sans-serif'  >0</text>
<line x1="204.92" y1="335.20" x2="204.92" y2="333.20" stroke="#262626" stroke-width="1" />
<line x1="204.92" y1="258.50" x2="204.92" y2="260.50" stroke="#262626" stroke-width="1" />
<text x="204.92" y="345.30" font-size="8.5" text-anchor="middle" fill="#262626" font-family='"Liberation Sans", sans-serif'  >50</text>
<line x1="112.60" y1="335.20" x2="114.60" y2="335.20" stroke="#262626" stroke-width="1" />
<line x1="205.20" y1="335.20" x2="203.20" y2="335.20" stroke="#262626" stroke-width="1" />
<text x="110.60" y="338.20" font-size="8.5" text-anchor="end" fill="#262626" font-family='"Liberation Sans", sans-serif'  >0</text>
<line x1="112.60" y1="304.60" x2="114.60" y2="304.60" stroke="#262626" stroke-width="1" />
<line x1="205.20" y1="304.60" x2="203.20" y2="304.60" stroke="#262626" stroke-width="1" />
<text x="110.60" y="307.60" font-size="8.5" text-anchor="end" fill="#262626" font-family='"Liberation Sans", sans-serif'  >0.01</text>
<line x1="112.60" y1="274.00" x2="114.60" y2="274.00" stroke="#262626" stroke-width="1" />
<line x1="205.20" y1="274.00" x2="203.20" y2="274.00" stroke="#262626" stroke-width="1" />
<text x="110.60" y="277.00" font-size="8.5" text-anchor="end" fill="#262626" font-family='"Liberation Sans", sans-serif'  >0.02</text>
<line x1="186.90" y1="258.50" x2="186.90" y2="335.20" stroke="#111" stroke-width="2" stroke-dasharray="4.5,2.6"/>
<polyline points="115.21,335.09 121.72,334.74 128.24,333.58 134.75,330.54 141.26,324.16 147.78,313.67 154.29,300.66 160.80,289.59 167.32,285.66 173.83,292.42 180.34,306.56 186.86,320.34 193.37,329.23 199.89,333.34" fill="none" stroke="#22b0ee" stroke-width="1.3" stroke-linejoin="round" />
<polygon points="117.61,335.09 112.81,332.59 112.81,337.59" fill="#fff" stroke="#22b0ee" stroke-width="1.0" stroke-linejoin="miter"/>
<polygon points="124.12,334.74 119.32,332.24 119.32,337.24" fill="#fff" stroke="#22b0ee" stroke-width="1.0" stroke-linejoin="miter"/>
<polygon points="130.64,333.58 125.84,331.08 125.84,336.08" fill="#fff" stroke="#22b0ee" stroke-width="1.0" stroke-linejoin="miter"/>
<polygon points="137.15,330.54 132.35,328.04 132.35,333.04" fill="#fff" stroke="#22b0ee" stroke-width="1.0" stroke-linejoin="miter"/>
<polygon points="143.66,324.16 138.86,321.66 138.86,326.66" fill="#fff" stroke="#22b0ee" stroke-width="1.0" stroke-linejoin="miter"/>
<polygon points="150.18,313.67 145.38,311.17 145.38,316.17" fill="#fff" stroke="#22b0ee" stroke-width="1.0" stroke-linejoin="miter"/>
<polygon points="156.69,300.66 151.89,298.16 151.89,303.16" fill="#fff" stroke="#22b0ee" stroke-width="1.0" stroke-linejoin="miter"/>
<polygon points="163.20,289.59 158.40,287.09 158.40,292.09" fill="#fff" stroke="#22b0ee" stroke-width="1.0" stroke-linejoin="miter"/>
<polygon points="169.72,285.66 164.92,283.16 164.92,288.16" fill="#fff" stroke="#22b0ee" stroke-width="1.0" stroke-linejoin="miter"/>
<polygon points="176.23,292.42 171.43,289.92 171.43,294.92" fill="#fff" stroke="#22b0ee" stroke-width="1.0" stroke-linejoin="miter"/>
<polygon points="182.75,306.56 177.94,304.06 177.94,309.06" fill="#fff" stroke="#22b0ee" stroke-width="1.0" stroke-linejoin="miter"/>
<polygon points="189.26,320.34 184.46,317.84 184.46,322.84" fill="#fff" stroke="#22b0ee" stroke-width="1.0" stroke-linejoin="miter"/>
<polygon points="195.77,329.23 190.97,326.73 190.97,331.73" fill="#fff" stroke="#22b0ee" stroke-width="1.0" stroke-linejoin="miter"/>
<polygon points="202.29,333.34 197.49,330.84 197.49,335.84" fill="#fff" stroke="#22b0ee" stroke-width="1.0" stroke-linejoin="miter"/>
<polyline points="118.89,335.09 125.04,334.72 131.19,333.42 137.33,329.88 143.47,322.26 149.62,309.61 155.76,294.04 161.91,281.35 168.05,277.99 174.20,288.07 180.34,305.77 186.49,321.27 192.63,330.20 198.78,333.84" fill="none" stroke="#7fe27f" stroke-width="1.3" stroke-linejoin="round" />
<polygon points="118.89,332.29 121.19,335.09 118.89,337.89 116.59,335.09" fill="#fff" stroke="#7fe27f" stroke-width="1.0" stroke-linejoin="miter"/>
<polygon points="125.04,331.92 127.34,334.72 125.04,337.52 122.74,334.72" fill="#fff" stroke="#7fe27f" stroke-width="1.0" stroke-linejoin="miter"/>
<polygon points="131.19,330.62 133.49,333.42 131.19,336.22 128.88,333.42" fill="#fff" stroke="#7fe27f" stroke-width="1.0" stroke-linejoin="miter"/>
<polygon points="137.33,327.08 139.63,329.88 137.33,332.68 135.03,329.88" fill="#fff" stroke="#7fe27f" stroke-width="1.0" stroke-linejoin="miter"/>
<polygon points="143.47,319.46 145.78,322.26 143.47,325.06 141.17,322.26" fill="#fff" stroke="#7fe27f" stroke-width="1.0" stroke-linejoin="miter"/>
<polygon points="149.62,306.81 151.92,309.61 149.62,312.41 147.32,309.61" fill="#fff" stroke="#7fe27f" stroke-width="1.0" stroke-linejoin="miter"/>
<polygon points="155.76,291.24 158.06,294.04 155.76,296.84 153.46,294.04" fill="#fff" stroke="#7fe27f" stroke-width="1.0" stroke-linejoin="miter"/>
<polygon points="161.91,278.55 164.21,281.35 161.91,284.15 159.61,281.35" fill="#fff" stroke="#7fe27f" stroke-width="1.0" stroke-linejoin="miter"/>
<polygon points="168.05,275.19 170.35,277.99 168.05,280.79 165.75,277.99" fill="#fff" stroke="#7fe27f" stroke-width="1.0" stroke-linejoin="miter"/>
<polygon points="174.20,285.27 176.50,288.07 174.20,290.87 171.90,288.07" fill="#fff" stroke="#7fe27f" stroke-width="1.0" stroke-linejoin="miter"/>
<polygon points="180.34,302.97 182.65,305.77 180.34,308.57 178.04,305.77" fill="#fff" stroke="#7fe27f" stroke-width="1.0" stroke-linejoin="miter"/>
<polygon points="186.49,318.47 188.79,321.27 186.49,324.07 184.19,321.27" fill="#fff" stroke="#7fe27f" stroke-width="1.0" stroke-linejoin="miter"/>
<polygon points="192.63,327.40 194.94,330.20 192.63,333.00 190.33,330.20" fill="#fff" stroke="#7fe27f" stroke-width="1.0" stroke-linejoin="miter"/>
<polygon points="198.78,331.04 201.08,333.84 198.78,336.64 196.48,333.84" fill="#fff" stroke="#7fe27f" stroke-width="1.0" stroke-linejoin="miter"/>
<polyline points="121.97,335.11 127.99,334.74 134.01,333.28 140.03,328.89 146.06,318.91 152.08,302.13 158.10,282.40 164.12,268.89 170.14,270.26 176.17,287.64 182.19,309.31 188.21,324.72 194.23,332.05" fill="none" stroke="#e6e61a" stroke-width="1.3" stroke-linejoin="round" />
<polygon points="121.97,337.41 124.77,332.81 119.17,332.81" fill="#fff" stroke="#e6e61a" stroke-width="1.0" stroke-linejoin="miter"/>
<polygon points="127.99,337.04 130.79,332.44 125.19,332.44" fill="#fff" stroke="#e6e61a" stroke-width="1.0" stroke-linejoin="miter"/>
<polygon points="134.01,335.58 136.81,330.98 131.21,330.98" fill="#fff" stroke="#e6e61a" stroke-width="1.0" stroke-linejoin="miter"/>
<polygon points="140.03,331.19 142.83,326.59 137.23,326.59" fill="#fff" stroke="#e6e61a" stroke-width="1.0" stroke-linejoin="miter"/>
<polygon points="146.06,321.21 148.86,316.61 143.26,316.61" fill="#fff" stroke="#e6e61a" stroke-width="1.0" stroke-linejoin="miter"/>
<polygon points="152.08,304.43 154.88,299.83 149.28,299.83" fill="#fff" stroke="#e6e61a" stroke-width="1.0" stroke-linejoin="miter"/>
<polygon points="158.10,284.70 160.90,280.10 155.30,280.10" fill="#fff" stroke="#e6e61a" stroke-width="1.0" stroke-linejoin="miter"/>
<polygon points="164.12,271.19 166.92,266.59 161.32,266.59" fill="#fff" stroke="#e6e61a" stroke-width="1.0" stroke-linejoin="miter"/>
<polygon points="170.14,272.56 172.94,267.96 167.34,267.96" fill="#fff" stroke="#e6e61a" stroke-width="1.0" stroke-linejoin="miter"/>
<polygon points="176.17,289.94 178.97,285.34 173.37,285.34" fill="#fff" stroke="#e6e61a" stroke-width="1.0" stroke-linejoin="miter"/>
<polygon points="182.19,311.61 184.99,307.01 179.39,307.01" fill="#fff" stroke="#e6e61a" stroke-width="1.0" stroke-linejoin="miter"/>
<polygon points="188.21,327.02 191.01,322.42 185.41,322.42" fill="#fff" stroke="#e6e61a" stroke-width="1.0" stroke-linejoin="miter"/>
<polygon points="194.23,334.35 197.03,329.75 191.43,329.75" fill="#fff" stroke="#e6e61a" stroke-width="1.0" stroke-linejoin="miter"/>
<polyline points="125.04,334.80 130.94,333.78 136.84,331.00 142.74,324.94 148.64,314.50 154.54,300.66 160.44,287.58 166.33,280.91 172.23,284.72 178.13,297.89 184.03,313.30 189.93,324.99 195.83,331.42" fill="none" stroke="#f2b11c" stroke-width="1.3" stroke-linejoin="round" />
<polygon points="125.04,332.50 127.84,337.10 122.24,337.10" fill="#fff" stroke="#f2b11c" stroke-width="1.0" stroke-linejoin="miter"/>
<polygon points="130.94,331.48 133.74,336.08 128.14,336.08" fill="#fff" stroke="#f2b11c" stroke-width="1.0" stroke-linejoin="miter"/>
<polygon points="136.84,328.70 139.64,333.30 134.04,333.30" fill="#fff" stroke="#f2b11c" stroke-width="1.0" stroke-linejoin="miter"/>
<polygon points="142.74,322.64 145.54,327.24 139.94,327.24" fill="#fff" stroke="#f2b11c" stroke-width="1.0" stroke-linejoin="miter"/>
<polygon points="148.64,312.20 151.44,316.80 145.84,316.80" fill="#fff" stroke="#f2b11c" stroke-width="1.0" stroke-linejoin="miter"/>
<polygon points="154.54,298.36 157.34,302.96 151.74,302.96" fill="#fff" stroke="#f2b11c" stroke-width="1.0" stroke-linejoin="miter"/>
<polygon points="160.44,285.28 163.24,289.88 157.64,289.88" fill="#fff" stroke="#f2b11c" stroke-width="1.0" stroke-linejoin="miter"/>
<polygon points="166.33,278.61 169.13,283.21 163.53,283.21" fill="#fff" stroke="#f2b11c" stroke-width="1.0" stroke-linejoin="miter"/>
<polygon points="172.23,282.42 175.03,287.02 169.43,287.02" fill="#fff" stroke="#f2b11c" stroke-width="1.0" stroke-linejoin="miter"/>
<polygon points="178.13,295.59 180.93,300.19 175.33,300.19" fill="#fff" stroke="#f2b11c" stroke-width="1.0" stroke-linejoin="miter"/>
<polygon points="184.03,311.00 186.83,315.60 181.23,315.60" fill="#fff" stroke="#f2b11c" stroke-width="1.0" stroke-linejoin="miter"/>
<polygon points="189.93,322.69 192.73,327.29 187.13,327.29" fill="#fff" stroke="#f2b11c" stroke-width="1.0" stroke-linejoin="miter"/>
<polygon points="195.83,329.12 198.63,333.72 193.03,333.72" fill="#fff" stroke="#f2b11c" stroke-width="1.0" stroke-linejoin="miter"/>
<polyline points="126.27,334.83 132.29,333.72 138.31,330.46 144.34,323.00 150.36,309.97 156.38,293.24 162.40,279.06 168.42,274.83 174.45,284.59 180.47,302.69 186.49,319.19 192.51,329.16" fill="none" stroke="#f0862a" stroke-width="1.3" stroke-linejoin="round" />
<circle cx="126.27" cy="334.83" r="2.20" fill="#fff" stroke="#f0862a" stroke-width="1.0"/>
<circle cx="132.29" cy="333.72" r="2.20" fill="#fff" stroke="#f0862a" stroke-width="1.0"/>
<circle cx="138.31" cy="330.46" r="2.20" fill="#fff" stroke="#f0862a" stroke-width="1.0"/>
<circle cx="144.34" cy="323.00" r="2.20" fill="#fff" stroke="#f0862a" stroke-width="1.0"/>
<circle cx="150.36" cy="309.97" r="2.20" fill="#fff" stroke="#f0862a" stroke-width="1.0"/>
<circle cx="156.38" cy="293.24" r="2.20" fill="#fff" stroke="#f0862a" stroke-width="1.0"/>
<circle cx="162.40" cy="279.06" r="2.20" fill="#fff" stroke="#f0862a" stroke-width="1.0"/>
<circle cx="168.42" cy="274.83" r="2.20" fill="#fff" stroke="#f0862a" stroke-width="1.0"/>
<circle cx="174.45" cy="284.59" r="2.20" fill="#fff" stroke="#f0862a" stroke-width="1.0"/>
<circle cx="180.47" cy="302.69" r="2.20" fill="#fff" stroke="#f0862a" stroke-width="1.0"/>
<circle cx="186.49" cy="319.19" r="2.20" fill="#fff" stroke="#f0862a" stroke-width="1.0"/>
<circle cx="192.51" cy="329.16" r="2.20" fill="#fff" stroke="#f0862a" stroke-width="1.0"/>
<polyline points="128.80,334.80 134.90,332.90 141.00,329.60 146.60,317.40 152.70,301.20 158.40,280.80 164.40,273.30 170.60,273.80 176.20,288.10 182.30,308.70 188.00,325.60 194.50,334.30" fill="none" stroke="#ee5424" stroke-width="1.3" stroke-linejoin="round" />
<polygon points="126.70,332.70 130.90,332.70 130.90,336.90 126.70,336.90" fill="#fff" stroke="#ee5424" stroke-width="1.0" stroke-linejoin="miter"/>
<polygon points="132.80,330.80 137.00,330.80 137.00,335.00 132.80,335.00" fill="#fff" stroke="#ee5424" stroke-width="1.0" stroke-linejoin="miter"/>
<polygon points="138.90,327.50 143.10,327.50 143.10,331.70 138.90,331.70" fill="#fff" stroke="#ee5424" stroke-width="1.0" stroke-linejoin="miter"/>
<polygon points="144.50,315.30 148.70,315.30 148.70,319.50 144.50,319.50" fill="#fff" stroke="#ee5424" stroke-width="1.0" stroke-linejoin="miter"/>
<polygon points="150.60,299.10 154.80,299.10 154.80,303.30 150.60,303.30" fill="#fff" stroke="#ee5424" stroke-width="1.0" stroke-linejoin="miter"/>
<polygon points="156.30,278.70 160.50,278.70 160.50,282.90 156.30,282.90" fill="#fff" stroke="#ee5424" stroke-width="1.0" stroke-linejoin="miter"/>
<polygon points="162.30,271.20 166.50,271.20 166.50,275.40 162.30,275.40" fill="#fff" stroke="#ee5424" stroke-width="1.0" stroke-linejoin="miter"/>
<polygon points="168.50,271.70 172.70,271.70 172.70,275.90 168.50,275.90" fill="#fff" stroke="#ee5424" stroke-width="1.0" stroke-linejoin="miter"/>
<polygon points="174.10,286.00 178.30,286.00 178.30,290.20 174.10,290.20" fill="#fff" stroke="#ee5424" stroke-width="1.0" stroke-linejoin="miter"/>
<polygon points="180.20,306.60 184.40,306.60 184.40,310.80 180.20,310.80" fill="#fff" stroke="#ee5424" stroke-width="1.0" stroke-linejoin="miter"/>
<polygon points="185.90,323.50 190.10,323.50 190.10,327.70 185.90,327.70" fill="#fff" stroke="#ee5424" stroke-width="1.0" stroke-linejoin="miter"/>
<polygon points="192.40,332.20 196.60,332.20 196.60,336.40 192.40,336.40" fill="#fff" stroke="#ee5424" stroke-width="1.0" stroke-linejoin="miter"/>
<line x1="115.20" y1="265.40" x2="125.90" y2="265.40" stroke="#22b0ee" stroke-width="1.2" />
<polygon points="122.80,265.40 118.00,262.90 118.00,267.90" fill="#fff" stroke="#22b0ee" stroke-width="1.0" stroke-linejoin="miter"/>
<text x="126.80" y="268.40" font-size="8.5" text-anchor="start" fill="#262626" font-family='"Liberation Sans", sans-serif'  >3.49d</text>
<line x1="115.20" y1="274.05" x2="125.90" y2="274.05" stroke="#7fe27f" stroke-width="1.2" />
<polygon points="120.40,271.25 122.70,274.05 120.40,276.85 118.10,274.05" fill="#fff" stroke="#7fe27f" stroke-width="1.0" stroke-linejoin="miter"/>
<text x="126.80" y="277.05" font-size="8.5" text-anchor="start" fill="#262626" font-family='"Liberation Sans", sans-serif'  >3.8d</text>
<line x1="115.20" y1="282.70" x2="125.90" y2="282.70" stroke="#e6e61a" stroke-width="1.2" />
<polygon points="120.40,285.00 123.20,280.40 117.60,280.40" fill="#fff" stroke="#e6e61a" stroke-width="1.0" stroke-linejoin="miter"/>
<text x="126.80" y="285.70" font-size="8.5" text-anchor="start" fill="#262626" font-family='"Liberation Sans", sans-serif'  >4.2d</text>
<line x1="115.20" y1="291.35" x2="125.90" y2="291.35" stroke="#f2b11c" stroke-width="1.2" />
<polygon points="120.40,289.05 123.20,293.65 117.60,293.65" fill="#fff" stroke="#f2b11c" stroke-width="1.0" stroke-linejoin="miter"/>
<text x="126.80" y="294.35" font-size="8.5" text-anchor="start" fill="#262626" font-family='"Liberation Sans", sans-serif'  >4.38d</text>
<line x1="115.20" y1="300.00" x2="125.90" y2="300.00" stroke="#f0862a" stroke-width="1.2" />
<circle cx="120.40" cy="300.00" r="2.20" fill="#fff" stroke="#f0862a" stroke-width="1.0"/>
<text x="126.80" y="303.00" font-size="8.5" text-anchor="start" fill="#262626" font-family='"Liberation Sans", sans-serif'  >4.5d</text>
<line x1="115.20" y1="308.65" x2="125.90" y2="308.65" stroke="#ee5424" stroke-width="1.2" />
<polygon points="118.30,306.55 122.50,306.55 122.50,310.75 118.30,310.75" fill="#fff" stroke="#ee5424" stroke-width="1.0" stroke-linejoin="miter"/>
<text x="126.80" y="311.65" font-size="8.5" text-anchor="start" fill="#262626" font-family='"Liberation Sans", sans-serif'  >4.6d</text>
<text x="159" y="360" font-size="10" text-anchor="middle" fill="#262626" font-family='"Liberation Sans", sans-serif'><tspan font-style="italic">θ</tspan><tspan font-size="7.5" dy="3" font-style="italic">i+1</tspan><tspan dy="-3">-</tspan><tspan font-style="italic">θ</tspan><tspan font-size="7.5" dy="3" font-style="italic">i</tspan><tspan dy="-3">(</tspan><tspan dy="2.5">°</tspan><tspan dy="-2.5">)</tspan></text>
<text transform="translate(88.4,296) rotate(-90)" font-size="10" text-anchor="middle" fill="#262626" font-family='"Liberation Sans", sans-serif' font-style="italic">P(θ<tspan font-size="7.5" dy="3">i+1</tspan><tspan dy="-3">-θ</tspan><tspan font-size="7.5" dy="3">i</tspan><tspan dy="-3">)</tspan></text>
<line x1="423.30" y1="251.50" x2="681.30" y2="251.50" stroke="#262626" stroke-width="1" />
<line x1="423.30" y1="453.30" x2="681.30" y2="453.30" stroke="#262626" stroke-width="1" />
<line x1="423.30" y1="251.50" x2="423.30" y2="453.30" stroke="#262626" stroke-width="1" />
<line x1="681.30" y1="251.50" x2="681.30" y2="453.30" stroke="#262626" stroke-width="1" />
<line x1="423.30" y1="453.30" x2="423.30" y2="450.10" stroke="#262626" stroke-width="1" />
<line x1="423.30" y1="251.50" x2="423.30" y2="254.70" stroke="#262626" stroke-width="1" />
<text x="423.30" y="467.10" font-size="11" text-anchor="middle" fill="#262626" font-family='"Liberation Sans", sans-serif'  >50</text>
<line x1="506.40" y1="453.30" x2="506.40" y2="450.10" stroke="#262626" stroke-width="1" />
<line x1="506.40" y1="251.50" x2="506.40" y2="254.70" stroke="#262626" stroke-width="1" />
<text x="506.40" y="467.10" font-size="11" text-anchor="middle" fill="#262626" font-family='"Liberation Sans", sans-serif'  >100</text>
<line x1="589.50" y1="453.30" x2="589.50" y2="450.10" stroke="#262626" stroke-width="1" />
<line x1="589.50" y1="251.50" x2="589.50" y2="254.70" stroke="#262626" stroke-width="1" />
<text x="589.50" y="467.10" font-size="11" text-anchor="middle" fill="#262626" font-family='"Liberation Sans", sans-serif'  >150</text>
<line x1="672.60" y1="453.30" x2="672.60" y2="450.10" stroke="#262626" stroke-width="1" />
<line x1="672.60" y1="251.50" x2="672.60" y2="254.70" stroke="#262626" stroke-width="1" />
<text x="672.60" y="467.10" font-size="11" text-anchor="middle" fill="#262626" font-family='"Liberation Sans", sans-serif'  >200</text>
<line x1="423.30" y1="453.30" x2="426.50" y2="453.30" stroke="#262626" stroke-width="1" />
<line x1="681.30" y1="453.30" x2="678.10" y2="453.30" stroke="#262626" stroke-width="1" />
<text x="419.60" y="457.60" font-size="11" text-anchor="end" fill="#262626" font-family='"Liberation Sans", sans-serif'  >0</text>
<line x1="423.30" y1="412.85" x2="426.50" y2="412.85" stroke="#262626" stroke-width="1" />
<line x1="681.30" y1="412.85" x2="678.10" y2="412.85" stroke="#262626" stroke-width="1" />
<text x="419.60" y="417.15" font-size="11" text-anchor="end" fill="#262626" font-family='"Liberation Sans", sans-serif'  >0.005</text>
<line x1="423.30" y1="372.40" x2="426.50" y2="372.40" stroke="#262626" stroke-width="1" />
<line x1="681.30" y1="372.40" x2="678.10" y2="372.40" stroke="#262626" stroke-width="1" />
<text x="419.60" y="376.70" font-size="11" text-anchor="end" fill="#262626" font-family='"Liberation Sans", sans-serif'  >0.01</text>
<line x1="423.30" y1="331.95" x2="426.50" y2="331.95" stroke="#262626" stroke-width="1" />
<line x1="681.30" y1="331.95" x2="678.10" y2="331.95" stroke="#262626" stroke-width="1" />
<text x="419.60" y="336.25" font-size="11" text-anchor="end" fill="#262626" font-family='"Liberation Sans", sans-serif'  >0.015</text>
<line x1="423.30" y1="291.50" x2="426.50" y2="291.50" stroke="#262626" stroke-width="1" />
<line x1="681.30" y1="291.50" x2="678.10" y2="291.50" stroke="#262626" stroke-width="1" />
<text x="419.60" y="295.80" font-size="11" text-anchor="end" fill="#262626" font-family='"Liberation Sans", sans-serif'  >0.02</text>
<line x1="423.30" y1="251.05" x2="426.50" y2="251.05" stroke="#262626" stroke-width="1" />
<line x1="681.30" y1="251.05" x2="678.10" y2="251.05" stroke="#262626" stroke-width="1" />
<text x="419.60" y="255.35" font-size="11" text-anchor="end" fill="#262626" font-family='"Liberation Sans", sans-serif'  >0.025</text>
<polyline points="454.80,452.20 475.30,452.20 495.80,449.60 516.30,443.00 536.80,431.10 557.30,409.80 577.70,375.20 598.00,342.70 618.20,330.90 638.50,343.80 659.60,361.20 679.80,374.40" fill="none" stroke="#2259b8" stroke-width="1.5" stroke-linejoin="round" />
<polygon points="454.80,449.30 458.20,455.10 451.40,455.10" fill="#aec3e6" stroke="#2259b8" stroke-width="1.2" stroke-linejoin="miter"/>
<polygon points="475.30,449.30 478.70,455.10 471.90,455.10" fill="#aec3e6" stroke="#2259b8" stroke-width="1.2" stroke-linejoin="miter"/>
<polygon points="495.80,446.70 499.20,452.50 492.40,452.50" fill="#aec3e6" stroke="#2259b8" stroke-width="1.2" stroke-linejoin="miter"/>
<polygon points="516.30,440.10 519.70,445.90 512.90,445.90" fill="#aec3e6" stroke="#2259b8" stroke-width="1.2" stroke-linejoin="miter"/>
<polygon points="536.80,428.20 540.20,434.00 533.40,434.00" fill="#aec3e6" stroke="#2259b8" stroke-width="1.2" stroke-linejoin="miter"/>
<polygon points="557.30,406.90 560.70,412.70 553.90,412.70" fill="#aec3e6" stroke="#2259b8" stroke-width="1.2" stroke-linejoin="miter"/>
<polygon points="577.70,372.30 581.10,378.10 574.30,378.10" fill="#aec3e6" stroke="#2259b8" stroke-width="1.2" stroke-linejoin="miter"/>
<polygon points="598.00,339.80 601.40,345.60 594.60,345.60" fill="#aec3e6" stroke="#2259b8" stroke-width="1.2" stroke-linejoin="miter"/>
<polygon points="618.20,328.00 621.60,333.80 614.80,333.80" fill="#aec3e6" stroke="#2259b8" stroke-width="1.2" stroke-linejoin="miter"/>
<polygon points="638.50,340.90 641.90,346.70 635.10,346.70" fill="#aec3e6" stroke="#2259b8" stroke-width="1.2" stroke-linejoin="miter"/>
<polygon points="659.60,358.30 663.00,364.10 656.20,364.10" fill="#aec3e6" stroke="#2259b8" stroke-width="1.2" stroke-linejoin="miter"/>
<polygon points="679.80,371.50 683.20,377.30 676.40,377.30" fill="#aec3e6" stroke="#2259b8" stroke-width="1.2" stroke-linejoin="miter"/>
<polyline points="506.70,451.60 522.50,449.80 537.90,440.50 553.80,423.30 569.50,389.20 585.80,336.40 601.60,294.80 617.10,288.10 633.00,305.10 648.90,355.60 664.40,403.60 679.80,441.60" fill="none" stroke="#f3a85a" stroke-width="1.2" stroke-linejoin="round" />
<polygon points="504.10,449.00 509.30,449.00 509.30,454.20 504.10,454.20" fill="#ffd500" stroke="#f0a43a" stroke-width="1.0" stroke-linejoin="miter"/>
<polygon points="519.90,447.20 525.10,447.20 525.10,452.40 519.90,452.40" fill="#ffd500" stroke="#f0a43a" stroke-width="1.0" stroke-linejoin="miter"/>
<polygon points="535.30,437.90 540.50,437.90 540.50,443.10 535.30,443.10" fill="#ffd500" stroke="#f0a43a" stroke-width="1.0" stroke-linejoin="miter"/>
<polygon points="551.20,420.70 556.40,420.70 556.40,425.90 551.20,425.90" fill="#ffd500" stroke="#f0a43a" stroke-width="1.0" stroke-linejoin="miter"/>
<polygon points="566.90,386.60 572.10,386.60 572.10,391.80 566.90,391.80" fill="#ffd500" stroke="#f0a43a" stroke-width="1.0" stroke-linejoin="miter"/>
<polygon points="583.20,333.80 588.40,333.80 588.40,339.00 583.20,339.00" fill="#ffd500" stroke="#f0a43a" stroke-width="1.0" stroke-linejoin="miter"/>
<polygon points="599.00,292.20 604.20,292.20 604.20,297.40 599.00,297.40" fill="#ffd500" stroke="#f0a43a" stroke-width="1.0" stroke-linejoin="miter"/>
<polygon points="614.50,285.50 619.70,285.50 619.70,290.70 614.50,290.70" fill="#ffd500" stroke="#f0a43a" stroke-width="1.0" stroke-linejoin="miter"/>
<polygon points="630.40,302.50 635.60,302.50 635.60,307.70 630.40,307.70" fill="#ffd500" stroke="#f0a43a" stroke-width="1.0" stroke-linejoin="miter"/>
<polygon points="646.30,353.00 651.50,353.00 651.50,358.20 646.30,358.20" fill="#ffd500" stroke="#f0a43a" stroke-width="1.0" stroke-linejoin="miter"/>
<polygon points="661.80,401.00 667.00,401.00 667.00,406.20 661.80,406.20" fill="#ffd500" stroke="#f0a43a" stroke-width="1.0" stroke-linejoin="miter"/>
<polygon points="677.20,439.00 682.40,439.00 682.40,444.20 677.20,444.20" fill="#ffd500" stroke="#f0a43a" stroke-width="1.0" stroke-linejoin="miter"/>
<text x="552.4" y="482.8" font-size="14" text-anchor="middle" fill="#262626" font-family='"Liberation Sans", sans-serif' font-style="italic">ϕ</text>
<text transform="translate(387,351) rotate(-90)" font-size="14" text-anchor="middle" fill="#262626" font-family='"Liberation Sans", sans-serif'><tspan font-style="italic">P</tspan>(<tspan font-style="italic">ϕ</tspan>)</text>
<text x="360.50" y="274.50" font-size="22" text-anchor="start" fill="#000" font-family='"Liberation Sans", sans-serif'  >(d)</text>
<line x1="631.90" y1="262.30" x2="648.50" y2="262.30" stroke="#2259b8" stroke-width="1.5" />
<polygon points="640.40,258.30 644.20,264.90 636.60,264.90" fill="#aec3e6" stroke="#2259b8" stroke-width="1.2" stroke-linejoin="miter"/>
<line x1="631.90" y1="274.90" x2="648.50" y2="274.90" stroke="#f3a85a" stroke-width="1.2" />
<polygon points="637.70,272.20 643.10,272.20 643.10,277.60 637.70,277.60" fill="#ffd500" stroke="#f0a43a" stroke-width="1.0" stroke-linejoin="miter"/>
<text x="650.20" y="266.00" font-size="10" text-anchor="start" fill="#262626" font-family='"Liberation Sans", sans-serif'  >chain</text>
<text x="650.20" y="278.60" font-size="10" text-anchor="start" fill="#262626" font-family='"Liberation Sans", sans-serif'  >arch</text>
<rect x="462.3" y="270.5" width="103.49999999999994" height="78.80000000000001" fill="#fff"/>
<polyline points="462.3,270.5 462.3,349.3 565.8,349.3 565.8,270.5 462.3,270.5" fill="none" stroke="#262626" stroke-width="1"/>
<line x1="462.40" y1="349.30" x2="462.40" y2="347.30" stroke="#262626" stroke-width="1" />
<line x1="462.40" y1="270.50" x2="462.40" y2="272.50" stroke="#262626" stroke-width="1" />
<text x="462.40" y="359.60" font-size="8.2" text-anchor="middle" fill="#262626" font-family='"Liberation Sans", sans-serif'  >120</text>
<line x1="494.60" y1="349.30" x2="494.60" y2="347.30" stroke="#262626" stroke-width="1" />
<line x1="494.60" y1="270.50" x2="494.60" y2="272.50" stroke="#262626" stroke-width="1" />
<text x="494.60" y="359.60" font-size="8.2" text-anchor="middle" fill="#262626" font-family='"Liberation Sans", sans-serif'  >140</text>
<line x1="526.80" y1="349.30" x2="526.80" y2="347.30" stroke="#262626" stroke-width="1" />
<line x1="526.80" y1="270.50" x2="526.80" y2="272.50" stroke="#262626" stroke-width="1" />
<text x="526.80" y="359.60" font-size="8.2" text-anchor="middle" fill="#262626" font-family='"Liberation Sans", sans-serif'  >160</text>
<line x1="559.00" y1="349.30" x2="559.00" y2="347.30" stroke="#262626" stroke-width="1" />
<line x1="559.00" y1="270.50" x2="559.00" y2="272.50" stroke="#262626" stroke-width="1" />
<text x="559.00" y="359.60" font-size="8.2" text-anchor="middle" fill="#262626" font-family='"Liberation Sans", sans-serif'  >180</text>
<line x1="462.30" y1="349.30" x2="464.30" y2="349.30" stroke="#262626" stroke-width="1" />
<line x1="565.80" y1="349.30" x2="563.80" y2="349.30" stroke="#262626" stroke-width="1" />
<text x="459.40" y="352.20" font-size="8" text-anchor="end" fill="#262626" font-family='"Liberation Sans", sans-serif'  >0</text>
<line x1="462.30" y1="317.74" x2="464.30" y2="317.74" stroke="#262626" stroke-width="1" />
<line x1="565.80" y1="317.74" x2="563.80" y2="317.74" stroke="#262626" stroke-width="1" />
<text x="459.40" y="320.64" font-size="8" text-anchor="end" fill="#262626" font-family='"Liberation Sans", sans-serif'  >0.02</text>
<line x1="462.30" y1="286.18" x2="464.30" y2="286.18" stroke="#262626" stroke-width="1" />
<line x1="565.80" y1="286.18" x2="563.80" y2="286.18" stroke="#262626" stroke-width="1" />
<text x="459.40" y="289.08" font-size="8" text-anchor="end" fill="#262626" font-family='"Liberation Sans", sans-serif'  >0.04</text>
<polyline points="465.80,348.00 476.90,347.20 487.90,343.10 499.00,334.20 510.00,321.40 521.10,310.90 532.10,303.00 543.20,301.40 554.20,306.20 565.30,337.70" fill="none" stroke="#2259b8" stroke-width="1.2" stroke-linejoin="round" />
<polygon points="465.80,345.50 468.80,350.50 462.80,350.50" fill="#aec3e6" stroke="#2259b8" stroke-width="1.0" stroke-linejoin="miter"/>
<polygon points="476.90,344.70 479.90,349.70 473.90,349.70" fill="#aec3e6" stroke="#2259b8" stroke-width="1.0" stroke-linejoin="miter"/>
<polygon points="487.90,340.60 490.90,345.60 484.90,345.60" fill="#aec3e6" stroke="#2259b8" stroke-width="1.0" stroke-linejoin="miter"/>
<polygon points="499.00,331.70 502.00,336.70 496.00,336.70" fill="#aec3e6" stroke="#2259b8" stroke-width="1.0" stroke-linejoin="miter"/>
<polygon points="510.00,318.90 513.00,323.90 507.00,323.90" fill="#aec3e6" stroke="#2259b8" stroke-width="1.0" stroke-linejoin="miter"/>
<polygon points="521.10,308.40 524.10,313.40 518.10,313.40" fill="#aec3e6" stroke="#2259b8" stroke-width="1.0" stroke-linejoin="miter"/>
<polygon points="532.10,300.50 535.10,305.50 529.10,305.50" fill="#aec3e6" stroke="#2259b8" stroke-width="1.0" stroke-linejoin="miter"/>
<polygon points="543.20,298.90 546.20,303.90 540.20,303.90" fill="#aec3e6" stroke="#2259b8" stroke-width="1.0" stroke-linejoin="miter"/>
<polygon points="554.20,303.70 557.20,308.70 551.20,308.70" fill="#aec3e6" stroke="#2259b8" stroke-width="1.0" stroke-linejoin="miter"/>
<polygon points="565.30,335.20 568.30,340.20 562.30,340.20" fill="#aec3e6" stroke="#2259b8" stroke-width="1.0" stroke-linejoin="miter"/>
<polyline points="483.70,347.70 492.30,346.00 501.00,339.40 509.50,325.60 518.20,296.90 526.60,277.70 535.10,282.90 543.70,300.10 552.30,331.30 560.90,346.50" fill="none" stroke="#f3a85a" stroke-width="1.0" stroke-linejoin="round" />
<polygon points="481.50,345.50 485.90,345.50 485.90,349.90 481.50,349.90" fill="#ffd500" stroke="#f0a43a" stroke-width="0.8" stroke-linejoin="miter"/>
<polygon points="490.10,343.80 494.50,343.80 494.50,348.20 490.10,348.20" fill="#ffd500" stroke="#f0a43a" stroke-width="0.8" stroke-linejoin="miter"/>
<polygon points="498.80,337.20 503.20,337.20 503.20,341.60 498.80,341.60" fill="#ffd500" stroke="#f0a43a" stroke-width="0.8" stroke-linejoin="miter"/>
<polygon points="507.30,323.40 511.70,323.40 511.70,327.80 507.30,327.80" fill="#ffd500" stroke="#f0a43a" stroke-width="0.8" stroke-linejoin="miter"/>
<polygon points="516.00,294.70 520.40,294.70 520.40,299.10 516.00,299.10" fill="#ffd500" stroke="#f0a43a" stroke-width="0.8" stroke-linejoin="miter"/>
<polygon points="524.40,275.50 528.80,275.50 528.80,279.90 524.40,279.90" fill="#ffd500" stroke="#f0a43a" stroke-width="0.8" stroke-linejoin="miter"/>
<polygon points="532.90,280.70 537.30,280.70 537.30,285.10 532.90,285.10" fill="#ffd500" stroke="#f0a43a" stroke-width="0.8" stroke-linejoin="miter"/>
<polygon points="541.50,297.90 545.90,297.90 545.90,302.30 541.50,302.30" fill="#ffd500" stroke="#f0a43a" stroke-width="0.8" stroke-linejoin="miter"/>
<polygon points="550.10,329.10 554.50,329.10 554.50,333.50 550.10,333.50" fill="#ffd500" stroke="#f0a43a" stroke-width="0.8" stroke-linejoin="miter"/>
<polygon points="558.70,344.30 563.10,344.30 563.10,348.70 558.70,348.70" fill="#ffd500" stroke="#f0a43a" stroke-width="0.8" stroke-linejoin="miter"/>
<text x="514" y="371.6" font-size="11" text-anchor="middle" fill="#262626" font-family='"Liberation Serif", serif' font-style="italic">α</text>
<text transform="translate(441.2,308.5) rotate(-90)" font-size="10.5" text-anchor="middle" fill="#262626" font-family='"Liberation Sans", sans-serif'><tspan font-style="italic">P</tspan>(<tspan font-family='"Liberation Serif", serif' font-style="italic">α</tspan>)</text>
</svg>
</body></html>
